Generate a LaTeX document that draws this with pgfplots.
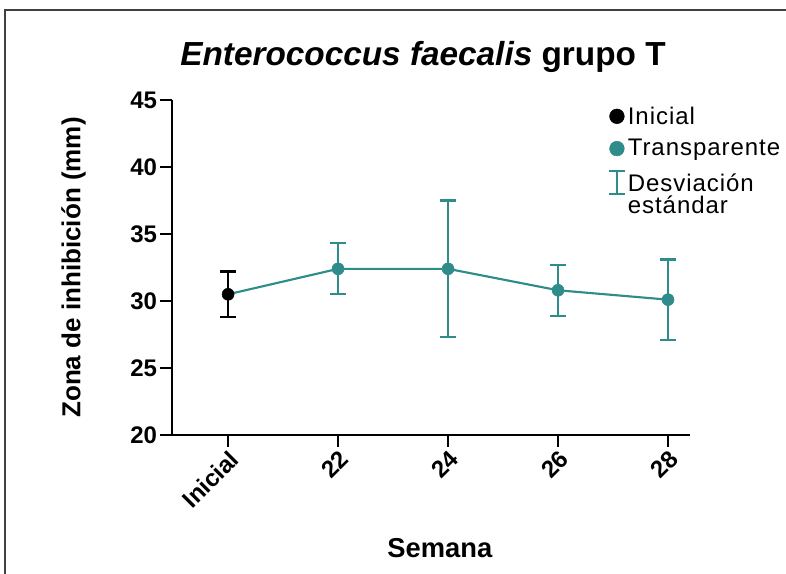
\documentclass[border=0pt]{standalone}
\usepackage{pgfplots}
\pgfplotsset{compat=1.18}
\usepackage{fontspec}
\setmainfont{Liberation Sans}
\definecolor{tealc}{RGB}{46,140,138}
\begin{document}
\begin{tikzpicture}
\useasboundingbox (0,0) rectangle (589.5pt,430.5pt);
\draw[line width=1.1pt, black!75] (3.75pt,-2pt) -- (3.75pt,423pt) -- (592pt,423pt);
\node[font=\fontsize{25}{25}\selectfont\bfseries] at (317.25pt,387.5pt) {\textit{Enterococcus faecalis} grupo T};
\begin{axis}[
  at={(129pt,104.25pt)}, anchor=south west,
  scale only axis, width=388.5pt, height=251.25pt,
  xmin=-0.51, xmax=4.2, ymin=20, ymax=45,
  axis lines=left, axis line style={line width=1.8pt, -},
  xtick={0,1,2,3,4}, xticklabels={Inicial,22,24,26,28},
  ytick={20,25,30,35,40,45},
  tick style={line width=1.8pt, black},
  major tick length=9pt, tick align=outside,
  /pgf/number format/assume math mode=true,
  ticklabel style={font=\fontsize{18}{18}\selectfont\bfseries},
  y tick label style={inner sep=2pt},
  x tick label style={rotate=45, anchor=north east, inner sep=1pt},
  ylabel={Zona de inhibición (mm)},
  ylabel style={font=\fontsize{19.5}{19.5}\selectfont\bfseries, at={(axis description cs:-0.19,0.5)}, anchor=center},
  xlabel={Semana},
  xlabel style={font=\fontsize{20.5}{20.5}\selectfont\bfseries, at={(axis description cs:0.517,-0.337)}, anchor=center},
  clip=false,
  legend style={at={(axis description cs:0.84,0.985)}, anchor=north west, draw=none, fill=none,
    font=\fontsize{18}{18}\selectfont\addfontfeature{LetterSpace=4}, row sep=8pt, inner sep=0pt,
    nodes={inner sep=1pt}},
  legend cell align=left,
]
% line through all points
\addplot[tealc, line width=1.6pt, forget plot] coordinates {(0,30.5) (1,32.4) (2,32.4) (3,30.8) (4,30.1)};
% transparente points with error bars
\addplot[tealc, only marks, mark=*, mark size=4.5pt, forget plot,
  error bars/.cd, y dir=both, y explicit,
  error bar style={line width=1.6pt, tealc},
  error mark options={tealc, line width=1.6pt, mark size=6pt, rotate=90}]
  coordinates {
  (1,32.4) +- (0,1.9)
  (2,32.4) +- (0,5.1)
  (3,30.8) +- (0,1.9)
  (4,30.1) +- (0,3.0)
  };
% inicial point
\addplot[black, only marks, mark=*, mark size=4.5pt, forget plot,
  error bars/.cd, y dir=both, y explicit,
  error bar style={line width=1.6pt, black},
  error mark options={black, line width=1.6pt, mark size=6pt, rotate=90}]
  coordinates {(0,30.5) +- (0,1.7)};
\addlegendimage{black, only marks, mark=*, mark size=5.5pt}
\addlegendentry{Inicial}
\addlegendimage{tealc, only marks, mark=*, mark size=5.5pt}
\addlegendentry{Transparente}
\addlegendimage{legend image code/.code={
  \draw[tealc, line width=1.8pt] (0.3cm,0.03cm) -- (0.3cm,0.63cm);
  \draw[tealc, line width=1.8pt] (0.08cm,0.03cm) -- (0.52cm,0.03cm);
  \draw[tealc, line width=1.8pt] (0.08cm,0.63cm) -- (0.52cm,0.63cm);}}
\addlegendentry{\shortstack[l]{Desviación\\estándar}}
\end{axis}
\end{tikzpicture}
\end{document}
